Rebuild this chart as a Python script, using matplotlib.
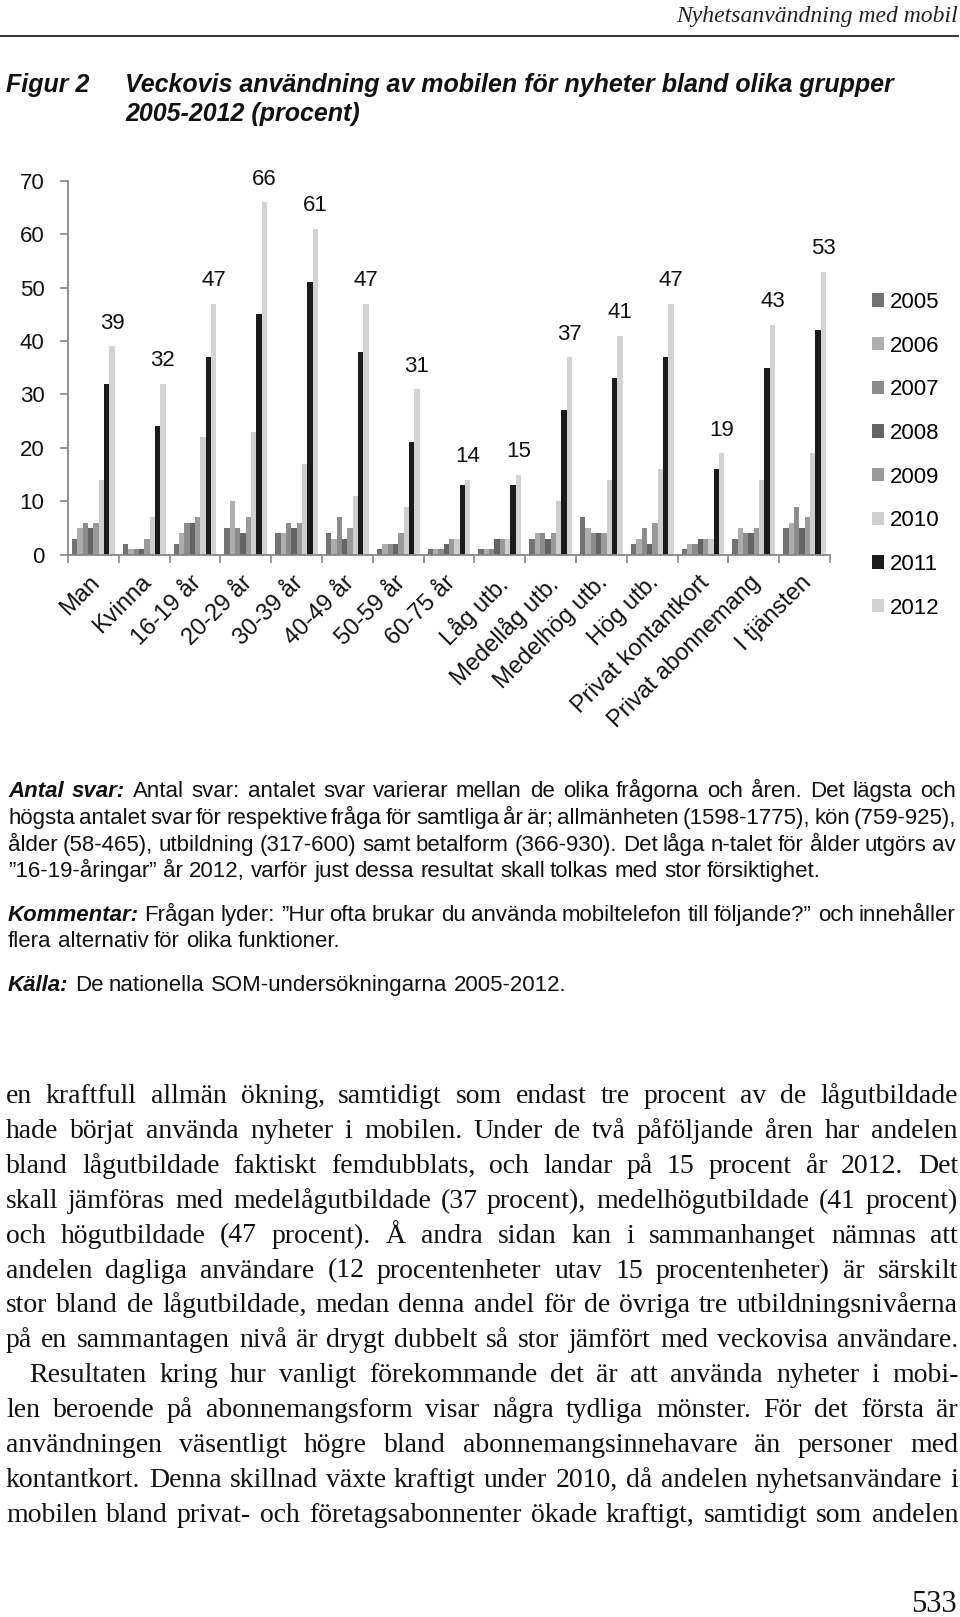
import matplotlib
matplotlib.use('Agg')
import matplotlib.pyplot as plt
import numpy as np
from matplotlib.transforms import IdentityTransform, ScaledTranslation

plt.rcParams['font.family'] = 'Liberation Sans'

groups = ['Man', 'Kvinna', '16-19 år', '20-29 år', '30-39 år', '40-49 år', '50-59 år',
          '60-75 år', 'Låg utb.', 'Medellåg utb.', 'Medelhög utb.', 'Hög utb.',
          'Privat kontantkort', 'Privat abonnemang', 'I tjänsten']
years = ['2005', '2006', '2007', '2008', '2009', '2010', '2011', '2012']
v2005 = [3, 2, 2, 5, 4, 4, 1, 1, 1, 3, 7, 2, 1, 3, 5]
v2006 = [5, 1, 4, 10, 4, 3, 2, 1, 1, 4, 5, 3, 2, 5, 6]
v2007 = [6, 1, 6, 5, 6, 7, 2, 1, 1, 4, 4, 5, 2, 4, 9]
v2008 = [5, 1, 6, 4, 5, 3, 2, 2, 3, 3, 4, 2, 3, 4, 5]
v2009 = [6, 3, 7, 7, 6, 5, 4, 3, 3, 4, 4, 6, 3, 5, 7]
v2010 = [14, 7, 22, 23, 17, 11, 9, 3, 3, 10, 14, 16, 3, 14, 19]
v2011 = [32, 24, 37, 45, 51, 38, 21, 13, 13, 27, 33, 37, 16, 35, 42]
v2012 = [39, 32, 47, 66, 61, 47, 31, 14, 15, 37, 41, 47, 19, 43, 53]
series = [v2005, v2006, v2007, v2008, v2009, v2010, v2011, v2012]
colors = ['#737373', '#adadad', '#8c8c8c', '#646464', '#9a9a9a', '#cecece', '#1c1a1b', '#d3d3d3']

notes = [
    ("Antal svar:", "Antal svar: antalet svar varierar mellan de olika frågorna och åren. Det lägsta och", True),
    ("", "högsta antalet svar för respektive fråga för samtliga år är; allmänheten (1598-1775), kön (759-925),", True),
    ("", "ålder (58-465), utbildning (317-600) samt betalform (366-930). Det låga n-talet för ålder utgörs av", True),
    ("", "”16-19-åringar” år 2012, varför just dessa resultat skall tolkas med stor försiktighet.", False),
    ("Kommentar:", "Frågan lyder: ”Hur ofta brukar du använda mobiltelefon till följande?” och innehåller", True),
    ("", "flera alternativ för olika funktioner.", False),
    ("Källa:", "De nationella SOM-undersökningarna 2005-2012.", False),
]
note_y = [797, 824, 851, 877, 921, 947, 991]

body = [
    "en kraftfull allmän ökning, samtidigt som endast tre procent av de lågutbildade",
    "hade börjat använda nyheter i mobilen. Under de två påföljande åren har andelen",
    "bland lågutbildade faktiskt femdubblats, och landar på 15 procent år 2012. Det",
    "skall jämföras med medelågutbildade (37 procent), medelhögutbildade (41 procent)",
    "och högutbildade (47 procent). Å andra sidan kan i sammanhanget nämnas att",
    "andelen dagliga användare (12 procentenheter utav 15 procentenheter) är särskilt",
    "stor bland de lågutbildade, medan denna andel för de övriga tre utbildningsnivåerna",
    "på en sammantagen nivå är drygt dubbelt så stor jämfört med veckovisa användare.",
    "Resultaten kring hur vanligt förekommande det är att använda nyheter i mobi-",
    "len beroende på abonnemangsform visar några tydliga mönster. För det första är",
    "användningen väsentligt högre bland abonnemangsinnehavare än personer med",
    "kontantkort. Denna skillnad växte kraftigt under 2010, då andelen nyhetsanvändare i",
    "mobilen bland privat- och företagsabonnenter ökade kraftigt, samtidigt som andelen",
]

W, H = 960, 1617
fig = plt.figure(figsize=(W / 100, H / 100), dpi=100)
renderer = fig.canvas.get_renderer()
px = IdentityTransform()


def width_of(s, **kw):
    t = fig.text(0, 0, s, transform=px, **kw)
    w = t.get_window_extent(renderer).width
    t.remove()
    return w


def put_line(words, x0, x1, ytop, justify):
    # words: list of (word, kwargs); ytop = baseline measured from the top of the page
    y = H - ytop
    widths = [width_of(w, **kw) for w, kw in words]
    space = width_of('a a', **words[-1][1]) - width_of('aa', **words[-1][1])
    gap = space
    if justify and len(words) > 1:
        gap = (x1 - x0 - sum(widths)) / (len(words) - 1)
    x = x0
    for (w, kw), wd in zip(words, widths):
        fig.text(round(x), y, w, transform=px, va='baseline', ha='left', **kw)
        x += wd + gap


# page header
fig.text(958, H - 22, 'Nyhetsanvändning med mobil', transform=px, ha='right', va='baseline',
         family='Liberation Serif', style='italic', fontsize=17, color='#222222')
fig.add_artist(plt.Line2D([0, 958], [H - 36, H - 36], transform=px, color='#333333', lw=1.4))

title_kw = dict(transform=px, va='baseline', ha='left', fontsize=18, weight='bold', style='italic',
                color='#111111')
fig.text(6, H - 92, 'Figur 2', **title_kw)
fig.text(125, H - 92, 'Veckovis användning av mobilen för nyheter bland olika grupper', **title_kw)
fig.text(125, H - 121, '2005-2012 (procent)', **title_kw)

# chart
ax = fig.add_axes([68 / W, 1 - 554.7 / H, (830 - 68) / W, (554.7 - 180.7) / H])
x = np.arange(len(groups))
bw = 0.105
handles = []
for i, (vals, c) in enumerate(zip(series, colors)):
    b = ax.bar(x + (i - 3.5) * bw, vals, bw, color=c, linewidth=0)
    handles.append(b)
for xi, v in zip(x, v2012):
    ax.annotate(str(v), (xi + 3.5 * bw, v), xytext=(0, 9), textcoords='offset points',
                ha='center', va='bottom', fontsize=16, color='#111111')

ax.set_xlim(-0.5, len(groups) - 0.5)
ax.set_ylim(0, 70)
ax.set_yticks(range(0, 71, 10))
ax.tick_params(axis='y', length=6, width=1.2, color='#888888', pad=11, labelsize=16,
               labelcolor='#111111')
ax.set_xticks(x)
ax.set_xticklabels(groups, rotation=45, ha='right', rotation_mode='anchor', fontsize=17,
                   color='#111111')
ax.tick_params(axis='x', which='major', length=0, pad=12)
shift = ScaledTranslation(-0.045, 0, fig.dpi_scale_trans)
for lab in ax.get_xticklabels():
    lab.set_transform(lab.get_transform() + shift)
ax.set_xticks(np.arange(-0.5, len(groups)), minor=True)
ax.tick_params(axis='x', which='minor', length=6, width=1.2, color='#888888')
for s in ['top', 'right']:
    ax.spines[s].set_visible(False)
for s in ['left', 'bottom']:
    ax.spines[s].set_color('#888888')
    ax.spines[s].set_linewidth(1.3)

ax.legend(handles, years, loc='upper left', bbox_to_anchor=(872 / W, 1 - 292 / H),
          bbox_transform=fig.transFigure, frameon=False, fontsize=16, handlelength=0.55,
          handleheight=0.55, handletextpad=0.25, labelspacing=1.02, borderpad=0, borderaxespad=0)

# notes under the chart
for (bold, rest, just), yb in zip(notes, note_y):
    words = [(w, dict(fontsize=16, weight='bold', style='italic', color='#111111')) for w in bold.split()]
    words += [(w, dict(fontsize=16, color='#111111')) for w in rest.split()]
    put_line(words, 8, 956, yb, just)

# running text
for i, line in enumerate(body):
    yb = 1103 + i * 34.9
    x0 = 29 if i == 8 else 6
    words = [(w, dict(fontsize=20, family='Liberation Serif', color='#111111')) for w in line.split()]
    put_line(words, x0, 958, yb, True)

fig.text(957, H - 1612, '533', transform=px, ha='right', va='baseline',
         family='Liberation Serif', fontsize=22, color='#111111')

fig.savefig('out.png', dpi=100)
